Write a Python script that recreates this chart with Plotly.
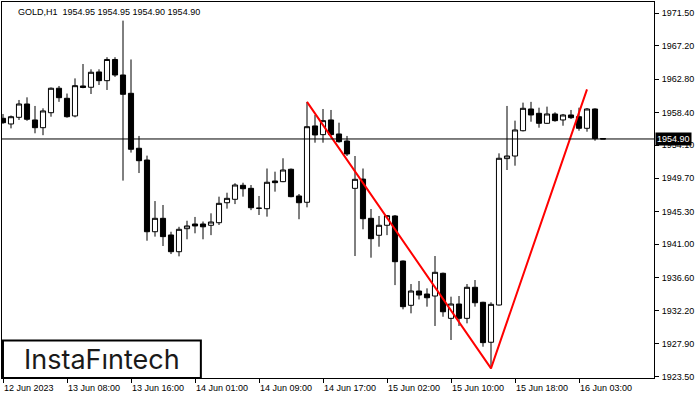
import plotly.graph_objects as go

# ---- data (GOLD H1) ----
opens = [1957.63, 1956.88, 1957.76, 1959.52, 1957.41, 1956.39, 1958.37, 1961.6, 1960.27, 1957.94,
         1961.9, 1961.73, 1963.75, 1962.6, 1965.4, 1963.35, 1960.93, 1953.67, 1952.12, 1942.65,
         1944.42, 1942.22, 1940.01, 1943.05, 1943.67, 1943.67, 1943.5, 1943.84, 1946.48, 1946.93,
         1948.78, 1948.38, 1945.75, 1945.69, 1949.35, 1949.26, 1950.9, 1947.37, 1946.54, 1956.62,
         1955.47, 1957.41, 1955.56, 1954.63, 1948.38, 1949.6, 1944.42, 1942.18, 1943.5, 1944.73,
         1938.78, 1932.93, 1934.82, 1934.42, 1934.16, 1937.16, 1931.21, 1933.1, 1931.21, 1935.31,
         1933.33, 1928.05, 1932.97, 1952.3, 1952.65, 1955.99, 1958.86, 1958.29, 1956.97, 1958.2,
         1957.41, 1958.07, 1957.84, 1956.31, 1958.86, 1954.95]
highs = [1958.2, 1958.0, 1960.05, 1960.4, 1959.26, 1958.95, 1961.7, 1961.9, 1960.9, 1962.9,
         1964.8, 1964.1, 1964.1, 1965.7, 1965.7, 1970.53, 1965.4, 1955.3, 1952.7, 1946.7,
         1946.18, 1942.65, 1943.3, 1944.1, 1944.6, 1944.0, 1945.08, 1947.28, 1947.8, 1949.05,
         1949.12, 1948.82, 1947.37, 1951.0, 1950.58, 1952.35, 1951.0, 1947.63, 1959.8, 1958.07,
         1958.86, 1958.73, 1957.05, 1955.3, 1952.65, 1951.0, 1945.65, 1944.73, 1944.86, 1944.86,
         1938.85, 1935.74, 1936.14, 1935.17, 1939.44, 1937.25, 1934.07, 1934.16, 1935.74, 1936.27,
         1933.4, 1933.33, 1953.0, 1959.26, 1957.32, 1959.7, 1959.8, 1959.03, 1959.17, 1958.42,
         1958.2, 1958.73, 1959.03, 1958.99, 1958.95, 1954.95]
lows = [1956.9, 1956.3, 1957.41, 1957.3, 1955.65, 1955.4, 1957.84, 1959.8, 1957.71, 1957.76,
        1961.6, 1960.84, 1962.03, 1961.37, 1963.1, 1949.4, 1953.1, 1950.4, 1941.46, 1942.0,
        1940.76, 1939.7, 1939.4, 1941.65, 1942.44, 1941.65, 1942.2, 1943.54, 1945.7, 1946.3,
        1947.28, 1945.5, 1944.86, 1944.64, 1947.94, 1949.2, 1947.2, 1944.3, 1945.87, 1954.41,
        1954.41, 1955.1, 1954.41, 1952.65, 1939.44, 1942.97, 1939.22, 1940.67, 1942.2, 1935.6,
        1932.4, 1931.87, 1933.7, 1932.75, 1930.2, 1931.42, 1928.35, 1930.2, 1930.55, 1932.75,
        1927.46, 1924.6, 1932.9, 1950.8, 1951.37, 1955.9, 1957.18, 1956.39, 1956.9, 1957.18,
        1956.65, 1957.54, 1955.99, 1955.86, 1954.67, 1954.9]
closes = [1957.05, 1957.84, 1959.52, 1957.5, 1956.39, 1958.6, 1961.6, 1960.35, 1957.84, 1961.94,
          1961.7, 1963.71, 1962.6, 1965.4, 1963.35, 1960.8, 1953.54, 1952.03, 1942.65, 1944.42,
          1942.0, 1940.01, 1942.97, 1943.41, 1943.41, 1943.3, 1943.93, 1946.4, 1947.06, 1948.82,
          1948.33, 1945.82, 1945.75, 1949.18, 1949.13, 1950.8, 1947.28, 1946.48, 1956.52, 1955.43,
          1957.32, 1955.47, 1954.54, 1952.92, 1949.57, 1944.37, 1941.73, 1943.5, 1944.77, 1938.69,
          1932.75, 1934.82, 1934.29, 1933.93, 1937.29, 1932.08, 1933.1, 1931.21, 1935.31, 1933.27,
          1928.0, 1933.06, 1952.35, 1952.65, 1956.09, 1958.95, 1958.07, 1956.97, 1958.2, 1957.32,
          1958.07, 1957.71, 1956.31, 1958.86, 1954.95, 1954.9]

time_tick_index = [0, 8, 16, 24, 32, 40, 48, 56, 64, 72]
time_tick_labels = ["12 Jun 2023", "13 Jun 08:00", "13 Jun 16:00", "14 Jun 01:00", "14 Jun 09:00",
                    "14 Jun 17:00", "15 Jun 02:00", "15 Jun 10:00", "15 Jun 18:00", "16 Jun 03:00"]
price_ticks = [1923.50, 1927.90, 1932.20, 1936.60, 1941.00, 1945.30, 1949.70, 1954.10,
               1958.40, 1962.80, 1967.20, 1971.50]

pattern_index = [38, 61, 73]
pattern_price = [1959.80, 1924.60, 1961.46]

current_price = 1954.90
header_text = "GOLD,H1  1954.95 1954.95 1954.90 1954.90"
logo_text = "InstaF\u0131ntech"

x = list(range(len(opens)))
FONT = "Liberation Sans, Arial, sans-serif"

fig = go.Figure()
fig.add_trace(go.Candlestick(
    x=x, open=opens, high=highs, low=lows, close=closes,
    increasing=dict(line=dict(color="black", width=1), fillcolor="white"),
    decreasing=dict(line=dict(color="black", width=1), fillcolor="black"),
    whiskerwidth=0, hoverinfo="skip", showlegend=False,
))
fig.add_trace(go.Scatter(
    x=pattern_index, y=pattern_price, mode="lines",
    line=dict(color="#ff0000", width=2), hoverinfo="skip", showlegend=False,
))

fig.add_hline(y=current_price, line=dict(color="black", width=1))

annotations = []
for xi, lab in zip(time_tick_index, time_tick_labels):
    annotations.append(dict(x=xi, y=0, xref="x", yref="paper", text=lab, showarrow=False,
                            xanchor="left", yanchor="top", yshift=-3, xshift=-1,
                            font=dict(family=FONT, size=9, color="black")))
annotations.append(dict(x=0, y=1, xref="paper", yref="paper", text=header_text, showarrow=False,
                        xanchor="left", yanchor="top", xshift=14, yshift=-3,
                        font=dict(family=FONT, size=9, color="black")))
annotations.append(dict(x=1, y=current_price, xref="paper", yref="y", text=f"{current_price:.2f}",
                        showarrow=False, xanchor="left", yanchor="middle", xshift=1,
                        bgcolor="black", borderpad=1,
                        font=dict(family=FONT, size=9, color="white")))
annotations.append(dict(x=0.154, y=0.05, xref="paper", yref="paper", text=logo_text, showarrow=False,
                        xanchor="center", yanchor="middle",
                        font=dict(family="Inter, Lato, sans-serif", size=27, color="#1a1a1a")))

fig.add_shape(type="rect", xref="paper", yref="paper", x0=0.0015, x1=0.305, y0=0.0, y1=0.0997,
              line=dict(color="black", width=2), fillcolor="white", layer="above")

fig.update_layout(
    width=700, height=400,
    margin=dict(l=2, r=46, t=2, b=22),
    paper_bgcolor="white", plot_bgcolor="white",
    boxgap=0.2, boxgroupgap=0.2,
    annotations=annotations,
    showlegend=False,
    hovermode=False,
    xaxis=dict(range=[-0.125, 81.375], rangeslider=dict(visible=False),
               tickmode="array", tickvals=time_tick_index, showticklabels=False,
               ticks="outside", ticklen=4, tickcolor="black",
               showgrid=False, zeroline=False, showline=True, linecolor="black",
               linewidth=1, mirror=True),
    yaxis=dict(range=[1923.33, 1972.99], side="right",
               tickmode="array", tickvals=price_ticks,
               ticktext=[f"{v:.2f}" for v in price_ticks],
               ticks="outside", ticklen=4, tickcolor="black", ticklabelstandoff=1,
               tickfont=dict(family=FONT, size=9, color="black"),
               showgrid=False, zeroline=False, showline=True, linecolor="black",
               linewidth=1, mirror=True),
)

fig.write_html("out.html", config={"displayModeBar": False},
               post_script="document.body.style.margin='0';")
